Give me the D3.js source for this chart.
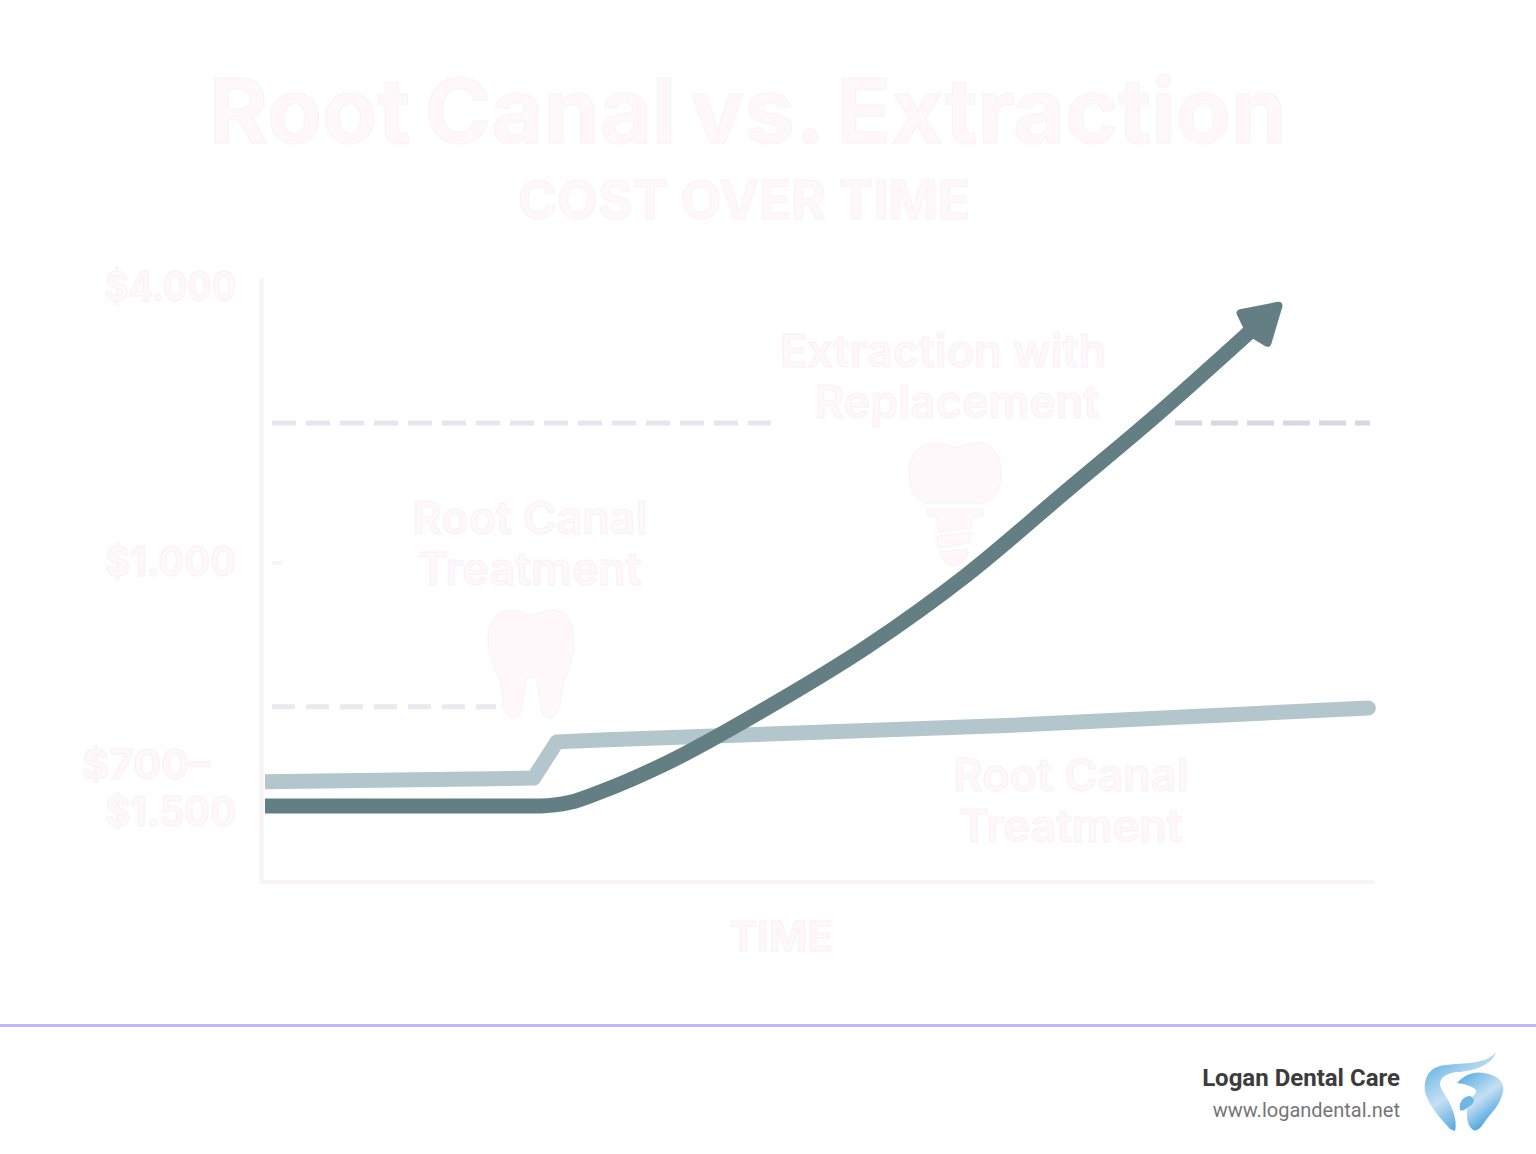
<!DOCTYPE html>
<html>
<head>
<meta charset="utf-8">
<script src="https://cdnjs.cloudflare.com/ajax/libs/d3/7.8.5/d3.min.js"></script>
<style>
  html, body { margin: 0; background: #fff; }
  svg { display: block; }
  text { font-family: Inter, Roboto, sans-serif; }
</style>
</head>
<body>
<svg id="chart" width="1536" height="1154"></svg>
<script>
// time runs 0-100 along the axis, cost is a relative 0-100 height (the axis is not linear in dollars)
const rootTime = [0, 24.2, 26.3, 30.2, 66.8, 99.4];
const rootCost = [16.6, 17.2, 23.2, 23.5, 25.9, 28.8];

const extractTime = [0, 12.2, 24.8, 27.5, 30.2, 36.2, 45.2, 54.2, 63.2, 72.3, 80, 88.9];
const extractCost = [12.6, 12.6, 12.6, 13.2, 14.9, 19.7, 28.8, 38.9, 50.8, 64.9, 76.8, 91.4];

const costTicks = [98.6, 53, 15.7];
const costLabels = [["$4.000"], ["$1.000"], ["$700–", "$1.500"]];

const refTicks = [76, 29];

const title = "Root Canal vs. Extraction";
const subtitle = "COST OVER TIME";
const xTitle = "TIME";
const rootLabel = ["Root Canal", "Treatment"];
const implantLabel = ["Extraction with", "Replacement"];

const faintFill = "#fef8fa";
const faintEdge = "#f9f2f6";

const svg = d3.select("#chart");

const x = d3.scaleLinear().domain([0, 100]).range([265, 1375]);
const y = d3.scaleLinear().domain([0, 100]).range([882, 278]);

const defs = svg.append("defs");

defs.append("clipPath").attr("id", "rootClip")
  .append("rect").attr("x", x(0)).attr("y", 0).attr("width", 1300).attr("height", 1000);

const marker = defs.append("marker")
  .attr("id", "arrow")
  .attr("markerUnits", "userSpaceOnUse")
  .attr("viewBox", "-10 -34 60 68")
  .attr("refX", 0).attr("refY", 0)
  .attr("markerWidth", 60).attr("markerHeight", 68)
  .attr("orient", "auto");
marker.append("path")
  .attr("d", "M3,-20 L36,0 L3,20 L-3,0 Z")
  .attr("fill", "#647f83")
  .attr("stroke", "#647f83")
  .attr("stroke-width", 8)
  .attr("stroke-linejoin", "round");

const logoGrad = defs.append("linearGradient")
  .attr("id", "logoBlue")
  .attr("x1", "0%").attr("y1", "0%").attr("x2", "60%").attr("y2", "100%");
logoGrad.append("stop").attr("offset", "0%").attr("stop-color", "#4aa6e0");
logoGrad.append("stop").attr("offset", "55%").attr("stop-color", "#c4e0f3");
logoGrad.append("stop").attr("offset", "100%").attr("stop-color", "#3c9bdc");

function faintText(g, str, px, py, size, weight, anchor) {
  return g.append("text")
    .attr("x", px).attr("y", py)
    .attr("font-size", size)
    .attr("font-weight", weight)
    .attr("text-anchor", anchor || "middle")
    .attr("fill", faintFill)
    .attr("stroke", faintEdge)
    .attr("stroke-width", 1)
    .text(str);
}

// titles
faintText(svg, title, 748, 143, 90, 700).attr("word-spacing", -7);
faintText(svg, subtitle, 744, 219, 53, 700);

// axes
const xAxis = d3.axisBottom(x).tickValues([]).tickSize(0);
const yAxis = d3.axisLeft(y).tickValues(costTicks).tickSize(0).tickFormat("");

svg.append("g")
  .attr("transform", "translate(0,882)")
  .call(xAxis)
  .call((g) => g.select(".domain").attr("d", "M260,0H1374").attr("stroke", faintEdge).attr("stroke-width", 4));

const yG = svg.append("g")
  .attr("transform", "translate(261,0)")
  .call(yAxis)
  .call((g) => g.select(".domain").attr("stroke", faintEdge).attr("stroke-width", 4));

yG.selectAll(".tick text").remove();
yG.selectAll(".tick").each(function (d, i) {
  const lines = costLabels[i];
  const t = d3.select(this);
  lines.forEach((line, j) => {
    const first = lines.length > 1 && j === 0;
    const dy = lines.length > 1 ? (j === 0 ? -9 : 38) : 14;
    faintText(t, line, first ? -51 : -25, dy, 41, 700, "end")
      .attr("lengthAdjust", "spacingAndGlyphs")
      .attr("textLength", first ? 128 : 131);
  });
});

// dashed reference lines
svg.append("line")
  .attr("x1", 272).attr("x2", 771)
  .attr("y1", y(refTicks[0])).attr("y2", y(refTicks[0]))
  .attr("stroke", "#e7e5ed").attr("stroke-width", 5).attr("stroke-dasharray", "24 10");
svg.append("line")
  .attr("x1", 1175).attr("x2", 1370)
  .attr("y1", y(refTicks[0])).attr("y2", y(refTicks[0]))
  .attr("stroke", "#d9d7e3").attr("stroke-width", 5).attr("stroke-dasharray", "27 9");
svg.append("line")
  .attr("x1", 272).attr("x2", 496)
  .attr("y1", y(refTicks[1])).attr("y2", y(refTicks[1]))
  .attr("stroke", "#ebe9f0").attr("stroke-width", 5).attr("stroke-dasharray", "23 11");
svg.append("line")
  .attr("x1", 272).attr("x2", 282)
  .attr("y1", y(costTicks[1]) + 1).attr("y2", y(costTicks[1]) + 1)
  .attr("stroke", "#f7f4f7").attr("stroke-width", 4);

// tooth icons
svg.append("path")
  .attr("d", "M488,640 C488,620 498,610 512,610 C522,610 526,615 531,615 C537,615 542,610 552,610 C566,610 574,622 574,642 C574,662 566,672 562,690 C560,705 558,718 549,718 C540,718 541,700 538,685 C536,674 527,674 525,685 C522,700 524,718 514,718 C504,718 503,705 502,692 C500,672 488,662 488,640 Z")
  .attr("fill", faintFill).attr("stroke", faintEdge);

svg.append("path")
  .attr("d", "M909,478 C909,455 918,443 935,443 C945,443 950,447 956,447 C962,447 968,443 978,443 C994,443 1002,456 1001,478 C1000,490 994,500 985,503 L925,503 C916,500 910,490 909,478 Z")
  .attr("fill", faintFill).attr("stroke", faintEdge);
svg.append("path")
  .attr("d", "M927,509 L983,509 L983,516 L972,517 L971,528 L938,532 L937,517 L927,516 Z M937,536 L971,532 L970,543 L938,548 Z M940,552 L968,549 C967,558 963,566 955,566 C947,566 941,560 940,552 Z")
  .attr("fill", faintFill).attr("stroke", faintEdge);

// labels
rootLabel.forEach((s, i) => faintText(svg, s, 530, 534 + i * 51, 45, 600));
implantLabel.forEach((s, i) => faintText(svg, s, i === 0 ? 943 : 957, 367 + i * 51, 45, 600));
rootLabel.forEach((s, i) => faintText(svg, s, 1071, 791 + i * 51, 45, 600));
faintText(svg, xTitle, 781, 951, 41.5, 700);

// series
const rootLine = d3.line().x((d) => x(d[0])).y((d) => y(d[1]));
const extractLine = d3.line().x((d) => x(d[0])).y((d) => y(d[1])).curve(d3.curveMonotoneX);

svg.append("path")
  .datum(d3.zip(rootTime, rootCost))
  .attr("d", rootLine)
  .attr("clip-path", "url(#rootClip)")
  .attr("fill", "none")
  .attr("stroke", "#b3c6cc")
  .attr("stroke-width", 15)
  .attr("stroke-linecap", "round")
  .attr("stroke-linejoin", "round");

svg.append("path")
  .datum(d3.zip(extractTime, extractCost))
  .attr("d", extractLine)
  .attr("fill", "none")
  .attr("stroke", "#647f83")
  .attr("stroke-width", 15)
  .attr("marker-end", "url(#arrow)");

// footer
svg.append("line")
  .attr("x1", 0).attr("x2", 1536).attr("y1", 1025.5).attr("y2", 1025.5)
  .attr("stroke", "#bdb9ff").attr("stroke-width", 3);

svg.append("text")
  .attr("x", 1400).attr("y", 1086)
  .attr("text-anchor", "end")
  .attr("font-size", 24).attr("font-weight", 700)
  .attr("fill", "#3c3c3c").style("font-family", "Roboto")
  .text("Logan Dental Care");
svg.append("text")
  .attr("x", 1400).attr("y", 1117)
  .attr("text-anchor", "end")
  .attr("font-size", 20)
  .attr("fill", "#757575").style("font-family", "Roboto")
  .text("www.logandental.net");

// logo
svg.append("path")
  .attr("d", "M1496,1052 C1485,1066 1460,1062 1440,1066 C1425,1070 1423,1085 1426,1095 C1432,1110 1442,1120 1450,1129 L1455,1131 C1458,1120 1452,1105 1442,1090 C1436,1080 1445,1072 1460,1072 C1478,1070 1492,1064 1496,1052 Z")
  .attr("fill", "url(#logoBlue)");
svg.append("path")
  .attr("d", "M1457,1083 C1465,1074 1475,1071 1484,1073 C1497,1075 1505,1082 1503,1092 C1500,1105 1492,1112 1486,1120 C1482,1126 1478,1132 1473,1130 C1466,1125 1466,1112 1468,1104 C1471,1096 1478,1094 1476,1090 C1472,1086 1465,1084 1457,1083 Z")
  .attr("fill", "url(#logoBlue)");
svg.append("path")
  .attr("d", "M1460,1110 C1458,1102 1464,1096 1470,1096 C1476,1098 1474,1104 1470,1106 C1466,1108 1464,1112 1460,1110 Z")
  .attr("fill", "#6fb6e6");
</script>
</body>
</html>
